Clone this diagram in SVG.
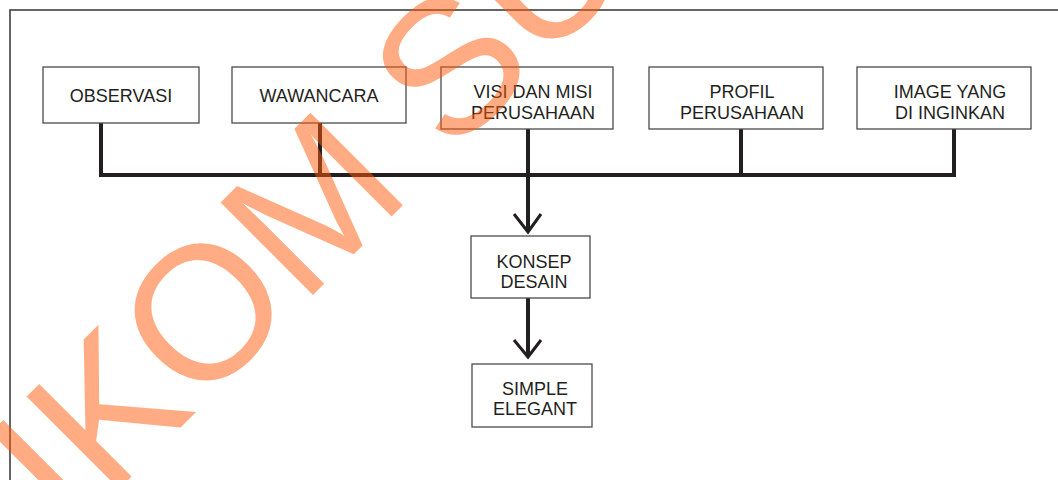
<svg xmlns="http://www.w3.org/2000/svg" width="1058" height="480" viewBox="0 0 1058 480">
<style>
.box{fill:#fff;stroke:#4a4a4a;stroke-width:1.3}
.t{font-family:"Liberation Sans",Arial,sans-serif;font-size:18px;fill:#231f20;text-anchor:middle}
.c{fill:none;stroke:#231f20;stroke-width:4}
.ah{fill:none;stroke:#231f20;stroke-width:3}
.wm{font-family:"Liberation Sans",Arial,sans-serif;font-size:190px;fill:#ff5a0a;fill-opacity:0.5}
</style>
<rect x="0" y="0" width="1058" height="480" fill="#fff"/>
<rect x="10" y="10" width="1060" height="480" fill="none" stroke="#333" stroke-width="1.5"/>
<g id="connectors">
<path class="c" d="M101 123V175H954V129M320 123V175M528 129V232M741 129V175"/>
<path class="ah" d="M514 214L528 232L541 214"/>
<path class="c" d="M528 298V357"/>
<path class="ah" d="M514 340L528 357L541 340"/>
</g>
<g id="observasi"><rect class="box" x="43" y="67" width="156" height="56"/><text class="t" x="121" y="102">OBSERVASI</text></g>
<g id="wawancara"><rect class="box" x="232" y="67" width="174" height="56"/><text class="t" x="319" y="102">WAWANCARA</text></g>
<g id="visi"><rect class="box" x="441" y="67" width="172" height="62"/><text class="t" x="533" y="98">VISI DAN MISI</text><text class="t" x="533" y="119">PERUSAHAAN</text></g>
<g id="profil"><rect class="box" x="649" y="67" width="174" height="62"/><text class="t" x="742" y="98">PROFIL</text><text class="t" x="742" y="119">PERUSAHAAN</text></g>
<g id="image"><rect class="box" x="857" y="67" width="174" height="62"/><text class="t" x="950" y="98">IMAGE YANG</text><text class="t" x="950" y="119">DI INGINKAN</text></g>
<g id="konsep"><rect class="box" x="471" y="236" width="119" height="62"/><text class="t" x="534" y="268">KONSEP</text><text class="t" x="534" y="288">DESAIN</text></g>
<g id="simple"><rect class="box" x="472" y="364" width="120" height="63"/><text class="t" x="535" y="395">SIMPLE</text><text class="t" x="535" y="415">ELEGANT</text></g>
<text class="wm" transform="translate(-101,709) rotate(-45)">STIKOM SURABAYA</text>
</svg>
